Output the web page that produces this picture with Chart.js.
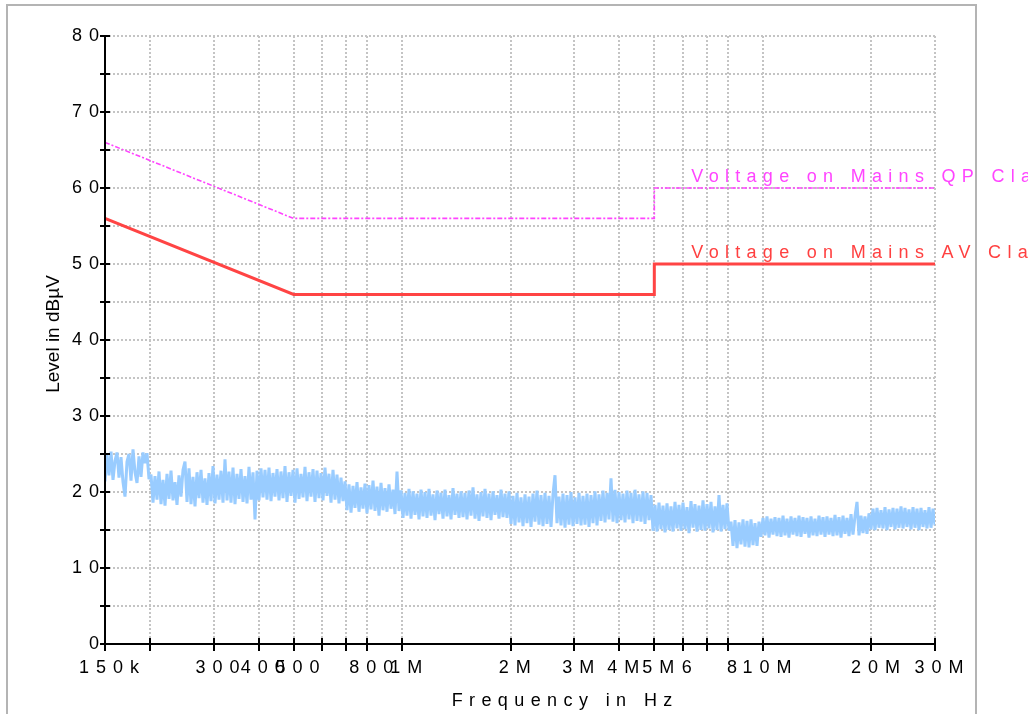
<!DOCTYPE html>
<html>
<head>
<meta charset="utf-8">
<title>Conducted emission</title>
<script src="https://cdn.jsdelivr.net/npm/chart.js@4.4.1/dist/chart.umd.min.js"></script>
<style>
  html, body { margin: 0; padding: 0; background: #fff; }
  canvas { display: block; }
</style>
</head>
<body>
<canvas id="emi" width="1036" height="714"></canvas>
<script>
// frequency grid (Hz) and the labels printed under it
const xGridFreqs = [150e3, 200e3, 300e3, 400e3, 500e3, 600e3, 700e3, 800e3, 1e6, 2e6, 3e6, 4e6, 5e6, 6e6, 7e6, 8e6, 10e6, 20e6, 30e6];
const xGridLabels = ["150k", "", "300", "400", "500", "", "", "800", "1M", "2M", "3M", "4M", "5M", "6", "", "8", "10M", "20M", "30M"];
const yGridLevels = [0, 5, 10, 15, 20, 25, 30, 35, 40, 45, 50, 55, 60, 65, 70, 75, 80];
const yLabelLevels = [0, 10, 20, 30, 40, 50, 60, 70, 80];

// limit lines (dBuV)
const limitFreqs = [150e3, 500e3, 5e6, 5e6, 30e6];
const qpLimit = [66, 56, 56, 60, 60];
const avLimit = [56, 46, 46, 50, 50];

// measured level per sweep step (log sweep 150k..30M)
const sweepLevels = [
  21.4, 24.9, 22.2, 25.3, 21.6, 24.1, 25.2, 21.9, 24.6, 21.3, 19.4, 24.0, 25.0, 21.5, 25.6, 22.6, 21.2, 24.7, 22.0, 25.2,
  23.8, 25.1, 21.7, 22.3, 18.6, 22.1, 19.0, 22.7, 18.4, 21.6, 18.2, 22.4, 19.1, 22.8, 18.9, 21.3, 18.3, 22.2, 19.4, 22.9,
  24.0, 18.7, 23.1, 18.4, 22.0, 18.1, 22.6, 19.2, 22.9, 18.6, 21.8, 18.3, 22.5, 18.8, 23.4, 18.5, 22.3, 19.0, 22.8, 18.6,
  24.3, 18.9, 22.7, 18.6, 23.2, 18.4, 22.4, 19.1, 23.0, 18.7, 22.1, 18.5, 23.3, 19.0, 22.6, 16.4, 22.8, 18.9, 23.1, 19.3,
  22.9, 19.0, 23.2, 18.8, 22.5, 19.4, 23.0, 18.9, 22.7, 19.2, 23.4, 18.7, 22.6, 19.5, 22.9, 18.6, 23.1, 19.1, 22.4, 19.3,
  23.3, 18.8, 22.6, 19.4, 23.0, 18.7, 22.8, 19.2, 22.5, 18.9, 23.2, 19.5, 22.4, 18.6, 22.9, 19.0, 22.3, 18.5, 21.9, 18.8,
  21.4, 17.6, 21.0, 17.3, 20.8, 17.9, 21.3, 17.4, 20.6, 17.8, 21.1, 17.2, 20.9, 17.7, 21.5, 17.5, 20.7, 16.9, 21.2, 17.6,
  20.5, 17.4, 21.0, 17.8, 20.3, 17.1, 22.7, 17.5, 20.2, 16.6, 19.9, 16.9, 20.4, 16.5, 20.1, 17.0, 19.8, 16.4, 20.3, 16.8,
  20.0, 16.6, 20.4, 16.9, 19.7, 16.3, 20.2, 17.1, 19.9, 16.5, 20.3, 16.8, 19.6, 16.4, 20.5, 17.0, 19.8, 16.6, 20.1, 16.7,
  19.9, 16.4, 20.2, 16.9, 20.6, 16.5, 19.7, 16.2, 20.0, 16.8, 20.4, 16.6, 19.8, 16.3, 20.1, 17.0, 19.6, 16.5, 20.3, 16.7,
  19.8, 16.6, 20.1, 15.8, 19.5, 15.6, 19.9, 16.0, 19.3, 15.5, 19.7, 15.9, 19.4, 15.4, 19.8, 16.1, 20.2, 15.7, 19.6, 15.5,
  19.9, 15.8, 19.5, 15.4, 19.7, 22.2, 15.9, 19.4, 15.6, 19.8, 15.3, 19.6, 15.7, 20.0, 15.5, 19.3, 15.8, 19.9, 15.6, 19.5,
  15.7, 19.8, 15.4, 19.6, 15.9, 20.1, 15.6, 19.7, 16.2, 20.2, 16.0, 19.9, 16.4, 21.8, 16.1, 20.3, 15.9, 20.0, 16.3, 19.8,
  16.0, 20.2, 16.4, 19.9, 15.9, 20.3, 16.2, 19.7, 16.1, 20.1, 15.8, 19.9, 16.3, 19.6, 14.9, 18.3, 14.8, 18.6, 15.1, 18.2,
  14.7, 18.5, 15.0, 18.1, 14.8, 18.7, 15.2, 18.3, 14.9, 18.6, 15.1, 18.0, 14.6, 18.8, 15.3, 18.4, 14.8, 18.2, 15.0, 18.9,
  14.9, 18.4, 15.2, 18.7, 14.7, 18.1, 15.0, 19.6, 14.8, 18.3, 15.1, 18.5, 14.9, 16.1, 12.9, 16.3, 12.6, 16.0, 13.1, 16.4,
  12.8, 16.2, 12.7, 16.4, 13.0, 15.9, 12.9, 16.1, 14.1, 16.6, 14.3, 16.8, 14.0, 16.5, 14.4, 16.7, 14.2, 16.6, 14.1, 16.9,
  14.3, 16.5, 14.0, 16.8, 14.4, 16.6, 14.2, 16.9, 14.1, 16.7, 14.5, 16.6, 14.0, 16.8, 14.3, 16.5, 14.2, 16.9, 14.4, 16.7,
  14.1, 16.8, 14.4, 16.6, 14.2, 17.0, 14.3, 16.7, 14.0, 16.9, 14.5, 16.6, 14.2, 17.1, 14.4, 16.8, 18.7, 14.3, 16.9, 14.6,
  16.8, 14.5, 17.2, 15.1, 17.8, 15.0, 17.9, 15.3, 17.6, 15.2, 18.0, 15.0, 17.7, 15.4, 17.9, 15.1, 17.8, 15.3, 18.1, 15.2,
  17.9, 15.4, 17.7, 15.1, 18.0, 15.3, 17.8, 15.0, 17.9, 15.4, 17.6, 15.2, 18.0, 15.3, 17.8, 15.6
];

const FONT = "'Liberation Sans', Arial, sans-serif";

function toPoints(xs, ys) {
  return xs.map((x, i) => ({ x: x, y: ys[i] }));
}

// letter-spaced text, positioned by its ink width (no trailing gap)
function spacedText(ctx, text, x, y, spacing, align) {
  ctx.letterSpacing = spacing + "px";
  const w = ctx.measureText(text).width - spacing;
  let left = x;
  if (align === "center") left = x - w / 2;
  else if (align === "right") left = x - w;
  ctx.textAlign = "left";
  ctx.fillText(text, left, y);
  ctx.letterSpacing = "0px";
}

const axisDecor = {
  id: "axisDecor",
  afterDraw(chart) {
    const { ctx, chartArea: a } = chart;
    const xs = chart.scales.x;
    const ys = chart.scales.y;
    ctx.save();

    // limit captions
    ctx.save();
    ctx.beginPath();
    ctx.rect(0, 0, 1028, 714);
    ctx.clip();
    ctx.font = "18px " + FONT;
    ctx.textBaseline = "alphabetic";
    ctx.fillStyle = "#ff44ff";
    spacedText(ctx, "Voltage on Mains QP Class B", xs.getPixelForValue(5e6) + 37, ys.getPixelForValue(60) - 6, 6.3, "left");
    ctx.fillStyle = "#ff4040";
    spacedText(ctx, "Voltage on Mains AV Class B", xs.getPixelForValue(5e6) + 37, ys.getPixelForValue(50) - 6, 6.3, "left");
    ctx.restore();

    // axes
    ctx.strokeStyle = "#000";
    ctx.lineWidth = 2;
    ctx.beginPath();
    ctx.moveTo(a.left, a.top);
    ctx.lineTo(a.left, a.bottom);
    ctx.lineTo(a.right, a.bottom);
    ctx.stroke();

    ctx.beginPath();
    yGridLevels.forEach(v => {
      const y = Math.round(ys.getPixelForValue(v));
      ctx.moveTo(a.left - 5, y);
      ctx.lineTo(a.left + 5, y);
    });
    xGridFreqs.forEach(f => {
      const x = Math.round(xs.getPixelForValue(f));
      ctx.moveTo(x, a.bottom - 6);
      ctx.lineTo(x, a.bottom + 7);
    });
    ctx.stroke();

    // tick labels
    ctx.fillStyle = "#000";
    ctx.font = "18px " + FONT;
    ctx.textBaseline = "middle";
    yLabelLevels.forEach(v => {
      spacedText(ctx, String(v), a.left - 6, ys.getPixelForValue(v), 7, "right");
    });
    ctx.textBaseline = "alphabetic";
    xGridFreqs.forEach((f, i) => {
      if (!xGridLabels[i]) return;
      spacedText(ctx, xGridLabels[i], xs.getPixelForValue(f) + 4, a.bottom + 29, 7, "center");
    });

    // axis titles
    spacedText(ctx, "Frequency in Hz", (a.left + a.right) / 2 + 42, 706, 6.4, "center");
    ctx.save();
    ctx.translate(59, 334);
    ctx.rotate(-Math.PI / 2);
    ctx.font = "19px " + FONT;
    ctx.textAlign = "center";
    ctx.fillText("Level in dB\u00b5V", 0, 0);
    ctx.restore();

    // outer frame
    ctx.strokeStyle = "#b4b4b4";
    ctx.lineWidth = 2;
    ctx.beginPath();
    ctx.moveTo(7, 714);
    ctx.lineTo(7, 5);
    ctx.lineTo(976, 5);
    ctx.lineTo(976, 714);
    ctx.stroke();

    ctx.restore();
  }
};

const gridStyle = { color: "#c4c4c4", lineWidth: 2, drawTicks: false };

new Chart(document.getElementById("emi"), {
  type: "line",
  data: {
    datasets: [
      {
        label: "Voltage on Mains QP Class B",
        data: toPoints(limitFreqs, qpLimit),
        borderColor: "#ff44ff",
        borderWidth: 1.6,
        borderDash: [5, 2, 2, 2],
        pointRadius: 0,
        tension: 0
      },
      {
        label: "Voltage on Mains AV Class B",
        data: toPoints(limitFreqs, avLimit),
        borderColor: "#ff4444",
        borderWidth: 3,
        pointRadius: 0,
        tension: 0
      },
      {
        label: "Level",
        data: sweepLevels.map((v, i) => ({ x: i, y: v })),
        xAxisID: "sweep",
        borderColor: "#99ccff",
        borderWidth: 3,
        borderJoinStyle: "bevel",
        pointRadius: 0,
        tension: 0
      }
    ]
  },
  options: {
    responsive: false,
    animation: false,
    events: [],
    layout: { padding: { left: 105, top: 36, right: 101, bottom: 70 } },
    plugins: { legend: { display: false }, tooltip: { enabled: false } },
    scales: {
      x: {
        type: "logarithmic",
        min: 150e3,
        max: 30e6,
        grid: gridStyle,
        border: { display: false, dash: [2, 2] },
        ticks: { display: false },
        afterBuildTicks: (scale) => { scale.ticks = xGridFreqs.map(v => ({ value: v })); },
        afterFit: (scale) => { scale.height = 0; }
      },
      sweep: {
        type: "linear",
        display: false,
        min: 0,
        max: sweepLevels.length - 1
      },
      y: {
        type: "linear",
        min: 0,
        max: 80,
        grid: gridStyle,
        border: { display: false, dash: [2, 2] },
        ticks: { display: false },
        afterBuildTicks: (scale) => { scale.ticks = yGridLevels.map(v => ({ value: v })); },
        afterFit: (scale) => { scale.width = 0; }
      }
    }
  },
  plugins: [axisDecor]
});
</script>
</body>
</html>
